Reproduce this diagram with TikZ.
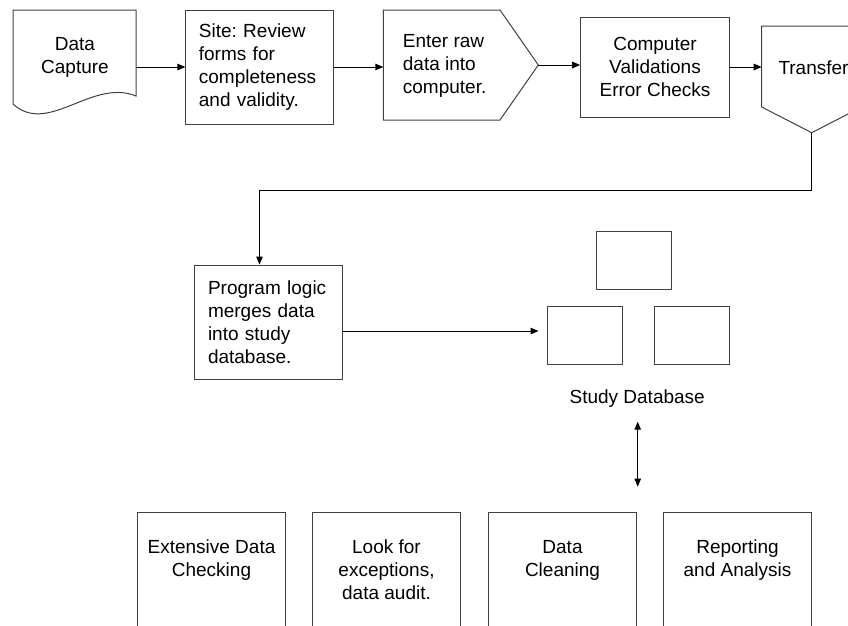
\documentclass[tikz,border=0pt]{standalone}
\usepackage{fontspec}
\setmainfont{Liberation Sans}
\usetikzlibrary{arrows.meta,calc}
\frenchspacing
\begin{document}
\begin{tikzpicture}[x=1pt,y=-1pt,
  font=\fontsize{19}{23}\selectfont,
  shp/.style={draw=black!75, line width=1pt},
  box/.style={shp, rectangle, inner sep=0pt, align=center},
  lbox/.style={shp, rectangle, inner ysep=0pt, align=left},
  txt/.style={inner sep=0pt, align=center},
  arr/.style={draw=black, line width=1pt, -{Triangle[length=8pt,width=6.5pt]}},
  ln/.style={draw=black, line width=1pt}]
\path[use as bounding box] (0,0) rectangle (848,625);
\clip (0,0) rectangle (848,625);

% Data capture (document shape)
\draw[shp] (13,10) -- (136,10) -- (136,96) .. controls (92,78) and (48,136) .. (13,104) -- cycle;
\node[txt] (cap) at (75,57) {Data\\Capture};
\coordinate (capR) at (136,67);

% Site review
\node[lbox, minimum width=148, minimum height=114, text width=122, inner xsep=13] (review) at (259.9,67) {Site: Review\\forms for\\completeness\\and validity.};

% Enter raw data (pentagon)
\coordinate (enW) at (383.3,65);
\coordinate (enTip) at (538.3,65);
\draw[shp] (383.3,10) -- (500,10) -- (enTip) -- (500,120) -- (383.3,120) -- cycle;
\node[txt, align=left, anchor=west] (enter) at (402.7,66) {Enter raw\\data into\\computer.};

% Computer validations
\node[box, minimum width=148.6, minimum height=100] (valid) at (655,67) {Computer\\Validations\\Error Checks};

% Transfer (off-page connector)
\coordinate (trW) at (761.7,67);
\coordinate (trTip) at (811.7,132.7);
\draw[shp] (761.7,107) -- (761.7,26) -- (861.7,26) -- (861.7,107) -- (trTip) -- cycle;
\node[txt, anchor=west] (transfer) at (778.3,68) {Transfer};

% top row arrows
\draw[arr] (capR) -- (capR -| review.west);
\draw[arr] (review.east) -- (review.east -| enW);
\draw[arr] (enTip) -- (enTip -| valid.west);
\draw[arr] (valid.east) -- (valid.east -| trW);

% Program logic
\node[lbox, minimum width=148.7, minimum height=114.3, text width=120.7, inner xsep=14] (prog) at (268.35,322.2) {Program logic\\merges data\\into study\\database.};
\coordinate (bend) at (259.5,190.7);
\draw[arr] (trTip) |- (bend) -- (bend |- prog.north);

% Study database
\node[box, minimum width=75, minimum height=58] (dbT) at (634.2,260.8) {};
\node[box, minimum width=75, minimum height=58] (dbL) at (584.8,335) {};
\node[box, minimum width=75, minimum height=58] (dbR) at (691.8,335) {};
\coordinate (dbIn) at (538.5,331);
\draw[arr] (dbIn -| prog.east) -- (dbIn);
\node[txt] (sdb) at (637.2,398.3) {Study Database};
\coordinate (dA) at (637.7,421.7);
\coordinate (dB) at (637.7,486.7);
\draw[arr, {Triangle[length=8pt,width=6.5pt]}-{Triangle[length=8pt,width=6.5pt]}] (dA) -- (dB);

% Bottom row
\node[box, minimum width=148, minimum height=140, anchor=north west] (b1) at (137,512) {};
\node[box, minimum width=148, minimum height=140, anchor=north west] (b2) at (312,512) {};
\node[box, minimum width=148, minimum height=140, anchor=north west] (b3) at (488,512) {};
\node[box, minimum width=148, minimum height=140, anchor=north west] (b4) at (663,512) {};
\node[txt, anchor=north] (t1) at ($(b1.north)+(0,28)$) {Extensive Data\\Checking};
\node[txt, anchor=north] (t2) at ($(b2.north)+(0,28)$) {Look for\\exceptions,\\data audit.};
\node[txt, anchor=north] (t3) at ($(b3.north)+(0,28)$) {Data\\Cleaning};
\node[txt, anchor=north] (t4) at ($(b4.north)+(0,28)$) {Reporting\\and Analysis};
\end{tikzpicture}
\end{document}
